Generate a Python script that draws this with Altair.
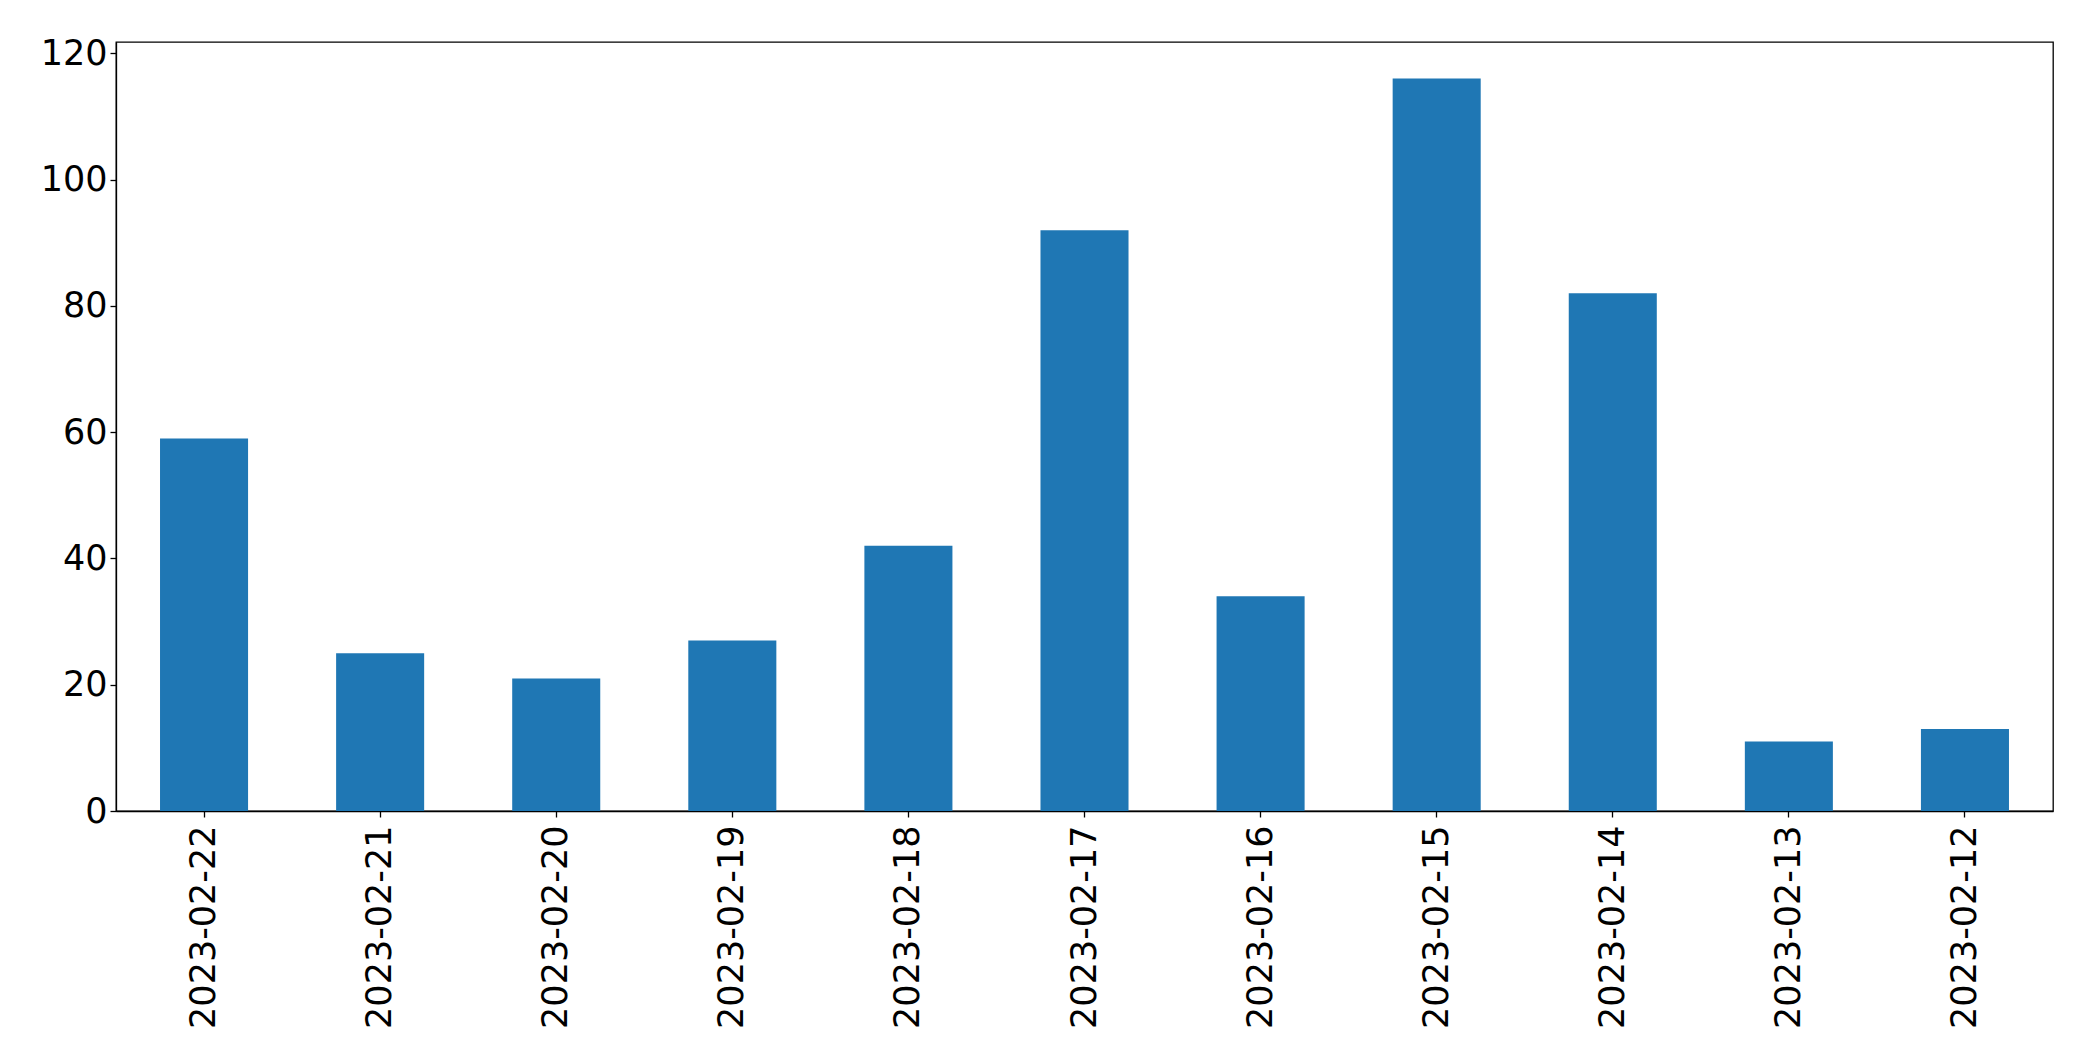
import altair as alt
import pandas as pd

dates = ["2023-02-22", "2023-02-21", "2023-02-20", "2023-02-19", "2023-02-18",
         "2023-02-17", "2023-02-16", "2023-02-15", "2023-02-14", "2023-02-13",
         "2023-02-12"]
counts = [59, 25, 21, 27, 42, 92, 34, 116, 82, 11, 13]

df = pd.DataFrame({"date": dates, "count": counts})

chart = alt.Chart(df).mark_bar(color="#1f77b4").encode(
    x=alt.X("date:N", sort=None, title=None,
            scale=alt.Scale(paddingInner=0.5, paddingOuter=0.25),
            axis=alt.Axis(labelAngle=-90, labelFontSize=35, labelFont="DejaVu Sans",
                          labelColor="black", tickColor="black", domainColor="black",
                          tickSize=6, labelPadding=8, domainWidth=1.3, tickWidth=1.3,
                          labelLimit=0)),
    y=alt.Y("count:Q", title=None,
            scale=alt.Scale(domain=[0, 121.8], nice=False),
            axis=alt.Axis(values=[0, 20, 40, 60, 80, 100, 120], grid=False,
                          labelFontSize=35, labelFont="DejaVu Sans", labelColor="black",
                          tickColor="black", domainColor="black", tickSize=6,
                          labelPadding=3, domainWidth=1.3, tickWidth=1.3)),
).properties(
    width=1937, height=769,
    autosize=alt.AutoSizeParams(type="none"),
    padding={"left": 108, "top": 34, "right": 30, "bottom": 230},
).configure_view(stroke="black", strokeWidth=1.3)

chart.save("out.html", embed_options={"renderer": "svg", "actions": False})
